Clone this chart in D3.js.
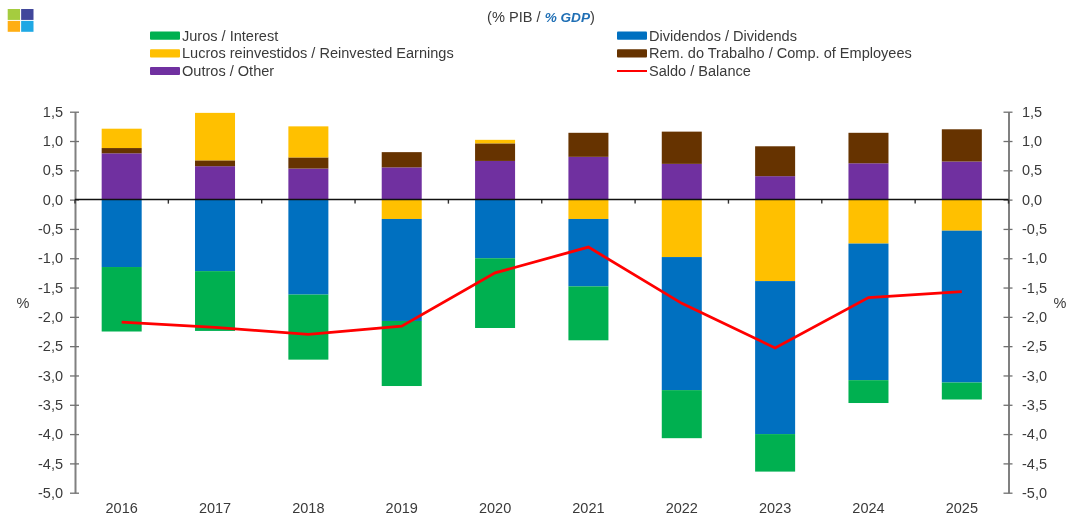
<!DOCTYPE html>
<html>
<head>
<meta charset="utf-8">
<script src="https://cdn.jsdelivr.net/npm/d3@7"></script>
<style>
html,body{margin:0;padding:0;background:#fff;overflow:hidden}
svg{display:block;filter:blur(0.45px)}
text{font-family:"Liberation Sans",Arial,sans-serif;fill:#3a3a3a}
</style>
</head>
<body>
<svg id="c" width="1070" height="515"></svg>
<script>
const years = ["2016","2017","2018","2019","2020","2021","2022","2023","2024","2025"];
const outros     = [0.79,0.57,0.53,0.55,0.66,0.73,0.61,0.40,0.62,0.65];
const trabalho   = [0.09,0.10,0.19,0.26,0.30,0.41,0.55,0.51,0.52,0.55];
const lucros     = [0.33,0.81,0.53,-0.33,0.06,-0.33,-0.98,-1.39,-0.75,-0.53];
const dividendos = [-1.15,-1.22,-1.62,-1.74,-1.00,-1.15,-2.27,-2.61,-2.33,-2.59];
const juros      = [-1.10,-1.02,-1.11,-1.11,-1.19,-0.92,-0.82,-0.64,-0.39,-0.29];
const saldo      = [-2.09,-2.18,-2.30,-2.16,-1.25,-0.81,-1.77,-2.53,-1.67,-1.57];
const yTicks = [1.5,1,0.5,0,-0.5,-1,-1.5,-2,-2.5,-3,-3.5,-4,-4.5,-5];
const seriesKeys = ["outros","trabalho","lucros","dividendos","juros"];
const seriesValues = {outros,trabalho,lucros,dividendos,juros};
const colors = {juros:"#00B050",lucros:"#FFC000",outros:"#7030A0",dividendos:"#0070C0",trabalho:"#663300",saldo:"#FF0000"};
const legendLeft = [["juros","Juros / Interest"],["lucros","Lucros reinvestidos / Reinvested Earnings"],["outros","Outros / Other"]];
const legendRight = [["dividendos","Dividendos / Dividends"],["trabalho","Rem. do Trabalho / Comp. of Employees"],["saldo","Saldo / Balance"]];
const logoColors = ["#A5CC3F","#41479B","#FFAE14","#1FA8E4"];

const svg = d3.select("#c");
const axisL = 75, axisR = 1008.5, plotTop = 111.7, plotBottom = 492.7;
const x = d3.scaleBand().domain(years).range([axisL,axisR]).paddingInner(0.5714).paddingOuter(0.2857);
const y = d3.scaleLinear().domain([1.5,-5]).range([plotTop,plotBottom]);
const fmt = v => d3.format(".1f")(v).replace(".",",").replace("−","-");

// logo
const logoScale = d3.scaleBand().domain([0,1]).range([7.7,33.5]).paddingInner(0.08);
const logoScaleY = d3.scaleBand().domain([0,1]).range([9,31.8]).paddingInner(0.08);
svg.append("g").selectAll("rect").data(logoColors).join("rect")
  .attr("x",(d,i)=>logoScale(i%2)).attr("y",(d,i)=>logoScaleY(i>>1))
  .attr("width",logoScale.bandwidth()).attr("height",logoScaleY.bandwidth()).attr("fill",d=>d);

// subtitle
const sub = svg.append("text").attr("x",541).attr("y",22).attr("text-anchor","middle").attr("font-size",14.6);
sub.append("tspan").text("(% PIB / ");
sub.append("tspan").text("% GDP").attr("font-weight","bold").attr("font-style","italic").attr("font-size",13.6).style("fill","#1F6FB5");
sub.append("tspan").text(")");

// legend
function drawLegend(items,x0){
  const g = svg.append("g");
  items.forEach(([k,label],i)=>{
    const yy = 35.7 + i*17.65;
    if(k==="saldo") g.append("line").attr("x1",x0).attr("x2",x0+30).attr("y1",yy).attr("y2",yy).attr("stroke",colors[k]).attr("stroke-width",2);
    else g.append("rect").attr("x",x0).attr("y",yy-4.1).attr("width",30).attr("height",8.2).attr("rx",1).attr("fill",colors[k]);
    g.append("text").attr("x",x0+32).attr("y",yy+5).attr("font-size",14.55).text(label);
  });
}
drawLegend(legendLeft,150);
drawLegend(legendRight,617);

// bars
const rows = years.map((yr,i)=>{
  const r = {year:yr};
  seriesKeys.forEach(k=>r[k]=seriesValues[k][i]);
  return r;
});
const stacked = d3.stack().keys(seriesKeys).offset(d3.stackOffsetDiverging)(rows);
svg.append("g").selectAll("g").data(stacked).join("g").attr("fill",d=>colors[d.key])
  .selectAll("rect").data(d=>d).join("rect")
  .attr("x",d=>x(d.data.year)).attr("width",x.bandwidth())
  .attr("y",d=>y(Math.max(d[0],d[1]))).attr("height",d=>Math.abs(y(d[0])-y(d[1])));

// y axes
function yAxis(pos,gen,tx){
  const g = svg.append("g").attr("transform",`translate(${pos},0)`)
    .call(gen(y).tickValues(yTicks).tickFormat(fmt).tickSize(0).tickPadding(tx));
  g.select(".domain").attr("stroke","#808080").attr("stroke-width",2);
  g.selectAll("text").attr("font-size",14.5).style("font-family",'"Liberation Sans",Arial,sans-serif').style("fill","#3a3a3a");
  g.selectAll(".tick").append("line").attr("x1",-5).attr("x2",4).attr("stroke","#707070").attr("stroke-width",1.3);
}
yAxis(axisL,d3.axisLeft,12);
yAxis(axisR,d3.axisRight,13.5);

// zero axis with category ticks at band edges
const edges = years.map(yr=>x(yr)-(x.step()-x.bandwidth())/2).concat([axisR]);
const zero = svg.append("g");
zero.selectAll("line").data(edges).join("line")
  .attr("x1",d=>d).attr("x2",d=>d).attr("y1",y(0)).attr("y2",y(0)+4)
  .attr("stroke","#303030").attr("stroke-width",1.4);
zero.append("line").attr("x1",axisL).attr("x2",axisR).attr("y1",y(0)).attr("y2",y(0)).attr("stroke","#111").attr("stroke-width",1.5);

// balance line
const balanceLine = d3.line().x((d,i)=>x(years[i])+x.bandwidth()/2).y(d=>y(d));
svg.append("path").datum(saldo).attr("d",balanceLine).attr("fill","none").attr("stroke",colors.saldo).attr("stroke-width",2.8);

// category labels
svg.append("g").selectAll("text").data(years).join("text")
  .attr("x",d=>x(d)+x.bandwidth()/2).attr("y",513).attr("text-anchor","middle").attr("font-size",14.5).text(d=>d);

// unit labels
svg.append("text").attr("x",23).attr("y",308).attr("text-anchor","middle").attr("font-size",14.5).text("%");
svg.append("text").attr("x",1060).attr("y",308).attr("text-anchor","middle").attr("font-size",14.5).text("%");
</script>
</body>
</html>
